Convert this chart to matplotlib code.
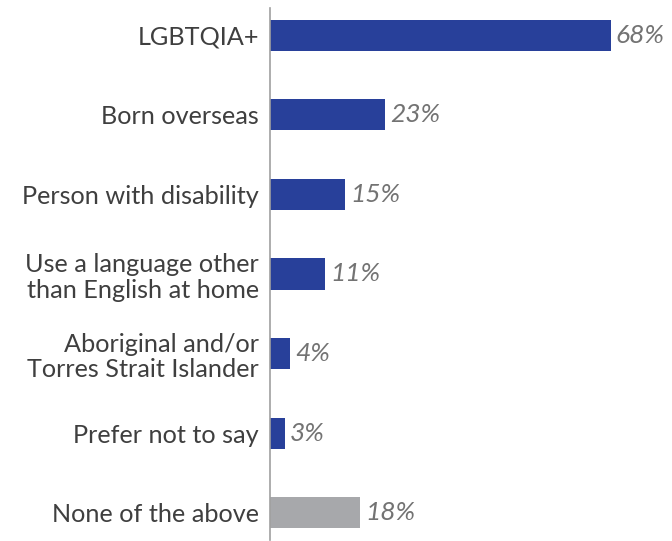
import matplotlib
matplotlib.use("Agg")
import matplotlib.pyplot as plt

categories = [
    "LGBTQIA+",
    "Born overseas",
    "Person with disability",
    "Use a language other\nthan English at home",
    "Aboriginal and/or\nTorres Strait Islander",
    "Prefer not to say",
    "None of the above",
]
values = [68, 23, 15, 11, 4, 3, 18]
colors = ["#28409A"] * 6 + ["#A7A8AB"]

plt.rcParams["font.family"] = ["Lato", "DejaVu Sans"]

fig = plt.figure(figsize=(6.72, 5.41), dpi=100)
ax = fig.add_axes([270 / 672, 1 / 541, 402 / 672, 532 / 541])

pos = list(range(len(categories)))
ax.barh(pos, values, height=0.39, color=colors)

for y, v in zip(pos, values):
    ax.text(v + 1.0, y, f"{v}%", va="center", ha="left", fontsize=19,
            style="italic", color="#737373")

ax.set_xlim(0, 80.2)
ax.set_ylim(6.34, -0.34)
ax.set_yticks(pos)
ax.set_yticklabels(categories, fontsize=18.2, color="#3F3F3F", linespacing=1.15)
ax.tick_params(axis="y", length=0, pad=8)
ax.set_xticks([])

for side in ["top", "right", "bottom"]:
    ax.spines[side].set_visible(False)
ax.spines["left"].set_color("#A0A0A0")
ax.spines["left"].set_linewidth(1.2)

fig.savefig("out.png", dpi=100)
